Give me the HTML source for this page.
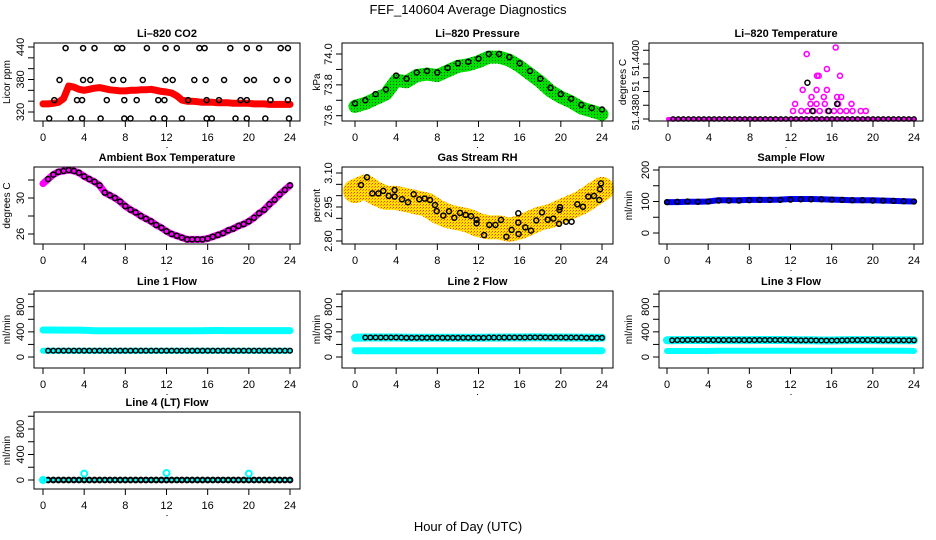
<!DOCTYPE html>
<html><head><meta charset="utf-8"><style>
body{margin:0;background:#fff}
svg{display:block;font-family:"Liberation Sans",sans-serif}
</style></head><body>
<svg id="c" width="936" height="540" viewBox="0 0 936 540" xmlns="http://www.w3.org/2000/svg">
<defs>
<pattern id="pGreen" width="3" height="3" patternUnits="userSpaceOnUse"><rect width="3" height="3" fill="#00e000"/><rect width="1" height="1" fill="#006000"/></pattern>
<pattern id="pRH" width="3" height="3" patternUnits="userSpaceOnUse"><rect width="3" height="3" fill="#ffe000"/><rect width="1" height="1" fill="#f04000"/><rect x="2" y="1" width="1" height="1" fill="#ff8000"/></pattern>
</defs>
<text x="468" y="14" text-anchor="middle" font-size="13">FEF_140604  Average Diagnostics</text>
<text x="468" y="531" text-anchor="middle" font-size="13">Hour of Day (UTC)</text>
</svg>
<script>
const hours49=[0,0.5,1,1.5,2,2.5,3,3.5,4,4.5,5,5.5,6,6.5,7,7.5,8,8.5,9,9.5,10,10.5,11,11.5,12,12.5,13,13.5,14,14.5,15,15.5,16,16.5,17,17.5,18,18.5,19,19.5,20,20.5,21,21.5,22,22.5,23,23.5,24];
const hours25=[0,1,2,3,4,5,6,7,8,9,10,11,12,13,14,15,16,17,18,19,20,21,22,23,24];
const xTicks=[0,4,8,12,16,20,24];
// CO2
const co2Band=[335,335,336,338,345,368,366,362,360,362,364,365,363,361,360,359,359,360,360,361,361,362,360,358,357,355,350,342,340,340,339,338,338,338,337,337,337,336,336,336,336,335,335,335,334,334,334,334,334];
const co2PtsH=[2.2,3.9,5.0,7.2,7.7,10.1,11.9,13.0,15.2,15.7,18.2,19.8,21,23.1,23.8, 1.6,3.9,4.6,6.8,7.8,9.7,11.9,12.6,14.7,15.8,17.6,19.8,20.5,22.7,23.8, 1.1,3.3,3.8,6.2,7.9,9.1,11.2,11.8,14.1,15.9,17.1,19.2,19.8,22.1,23.8, 0.6,2.7,3.8,5.6,7.9,8.5,10.7,11.8,13.5,15.9,16.4,18.7,19.8,21.6,23.9];
const co2PtsV=[438,438,438,438,438,438,438,438,438,438,438,438,438,438,438, 379,379,379,379,379,379,379,379,379,379,379,379,379,379,379, 342,342,342,342,342,342,342,342,342,342,342,342,342,342,342, 308,308,308,308,308,308,308,308,308,308,308,308,308,308,308];
// Pressure
const presBand=[73.66,73.68,73.71,73.74,73.83,73.82,73.86,73.87,73.86,73.89,73.92,73.93,73.95,73.98,73.98,73.96,73.92,73.87,73.82,73.76,73.72,73.69,73.65,73.63,73.61];
const presPts=[73.68,73.70,73.74,73.77,73.86,73.84,73.88,73.89,73.88,73.91,73.94,73.95,73.97,74.00,74.00,73.98,73.94,73.89,73.84,73.78,73.74,73.71,73.67,73.65,73.64];
// Li-820 temperature
const tempBase=[51.4380,51.4380,51.4380,51.4380,51.4380,51.4380,51.4380,51.4380,51.4380,51.4380,51.4380,51.4380,51.4380,51.4380,51.4380,51.4380,51.4380,51.4380,51.4380,51.4380,51.4380,51.4380,51.4380,51.4380,51.4380,51.4380,51.4380,51.4380,51.4380,51.4380,51.4380,51.4380,51.4380,51.4380,51.4380,51.4380,51.4380,51.4380,51.4380,51.4380,51.4380,51.4380,51.4380,51.4380,51.4380,51.4380,51.4380,51.4380,51.4380];
const tempMagH=[13.53,16.36,15.5,14.54,14.7,16.78,13.14,14.5,15.5,12.4,13.9,14.5,15.3,16.6,17.9,12.2,13.0,13.6,14.2,14.8,15.6,16.2,16.8,17.4,18.0,18.8,19.3,14.0,15.2,16.5,16.9];
const tempMagV=[51.44036,51.4406,51.43982,51.43957,51.43957,51.43957,51.43906,51.43906,51.43906,51.43855,51.43855,51.43855,51.43855,51.43855,51.43855,51.43829,51.43829,51.43829,51.43829,51.43829,51.43829,51.43829,51.43829,51.43829,51.43829,51.43829,51.43829,51.4388,51.4388,51.4388,51.4388];
const tempBlkH=[13.6,16.5,14.1,15.7];
const tempBlkV=[51.43932,51.43855,51.43829,51.43829];
// Ambient box temperature
const ambT=[31.6,32.1,32.6,32.9,33.0,33.1,33.0,32.8,32.4,32.1,31.8,31.4,30.6,30.3,30.0,29.6,29.1,28.7,28.4,28.0,27.7,27.4,27.0,26.7,26.3,26.0,25.8,25.6,25.4,25.4,25.4,25.4,25.5,25.7,25.9,26.1,26.4,26.6,26.9,27.1,27.4,27.8,28.3,28.7,29.3,29.8,30.4,30.9,31.4];
// Gas stream RH
const rhBand=[3.02,3.04,3.01,2.99,2.99,2.98,2.97,2.96,2.93,2.91,2.90,2.89,2.87,2.86,2.86,2.85,2.86,2.88,2.90,2.91,2.93,2.95,2.97,3.00,3.03];
const rhPtsH=[0.58,1.17,1.68,2.27,2.75,3.27,3.85,3.85,4.57,5.15,5.70,6.25,6.77,7.29,7.77,7.94,8.58,9.13,9.65,10.20,10.75,11.27,11.82,11.82,12.54,13.05,13.64,14.19,14.71,15.22,15.87,15.87,15.90,16.55,17.10,17.62,18.17,18.72,19.27,19.82,19.86,19.92,20.50,21.05,21.60,22.15,22.67,23.22,23.74,23.81,23.90];
const rhPtsV=[3.047,3.081,3.010,3.010,3.021,2.999,3.025,2.996,2.984,2.971,3.006,2.984,2.987,2.981,2.959,2.932,2.912,2.931,2.903,2.924,2.915,2.910,2.893,2.878,2.826,2.871,2.871,2.893,2.819,2.849,2.922,2.881,2.831,2.860,2.846,2.891,2.926,2.894,2.899,2.876,2.937,2.949,2.885,2.885,2.962,2.951,2.996,2.999,2.981,3.028,3.054];
// Sample flow
const sampBand=[98,98,99,99,100,104,104,104,105,105,105,106,108,108,108,107,106,105,104,104,104,103,102,101,100];
const sampPts=[98,99,100,99,100,103,103,103,104,105,105,105,106,107,107,107,106,105,104,104,103,103,102,101,100];
// Line flows
const l1High=[430,430,428,428,425,418,418,418,418,418,418,418,418,418,418,418,420,422,420,420,420,420,420,420,420];
const l1Low=[100,100,100,100,100,100,100,100,100,100,100,100,100,100,100,100,100,100,100,100,100,100,100,100,100];
const l1Pts=[100,100,100,100,100,100,100,100,100,100,100,100,100,100,100,100,100,100,100,100,100,100,100,100,100,100,100,100,100,100,100,100,100,100,100,100,100,100,100,100,100,100,100,100,100,100,100,100,100];
const l2High=[305,310,310,310,310,305,305,305,305,305,305,305,305,308,308,310,310,312,312,310,310,308,308,305,305];
const l2Pts=[305,308,310,310,310,310,310,310,310,308,305,305,305,305,305,305,305,305,305,305,305,305,305,305,305,305,308,308,308,308,310,310,310,310,312,312,312,312,310,310,310,308,308,308,308,305,305,305,305];
const l2Low=[100,100,100,100,100,100,100,100,100,100,100,100,100,100,100,100,100,100,100,100,100,100,100,100,100];
const l3High=[265,268,270,270,270,268,268,268,268,270,270,270,268,265,265,262,262,265,268,268,268,265,265,265,265];
const l3Pts=[265,266,268,269,270,270,270,270,270,269,268,268,268,268,268,268,268,269,270,270,270,270,270,269,268,266,265,265,265,264,262,262,262,263,265,266,268,268,268,268,268,267,265,265,265,265,265,265,265];
const l3Low=[95,95,95,95,95,98,100,100,100,100,100,100,100,100,100,100,100,100,100,100,100,98,98,98,95];
const l4Zero=[0,0,0,0,0,0,0,0,0,0,0,0,0,0,0,0,0,0,0,0,0,0,0,0,0,0,0,0,0,0,0,0,0,0,0,0,0,0,0,0,0,0,0,0,0,0,0,0,0];
const l4SpikeH=[0,4,12,20];
const l4SpikeV=[0,100,110,100];

const svg=document.getElementById('c');
const NS='http://www.w3.org/2000/svg';
function mk(tag,attrs,parent){const e=document.createElementNS(NS,tag);for(const k in attrs)e.setAttribute(k,attrs[k]);(parent||svg).appendChild(e);return e;}

function panel(cfg){
  const g=mk('g',{});
  
  
  const [bx0,by0,bx1,by1]=cfg.box;
  const X=h=>cfg.xp[0]+(h/24)*(cfg.xp[1]-cfg.xp[0]);
  const [v1,p1,v2,p2]=cfg.ym;
  const Y=v=>p1+(v-v1)*(p2-p1)/(v2-v1);
  const t=mk('text',{x:(bx0+bx1)/2,y:by0-6,'text-anchor':'middle','font-size':'11','font-weight':'bold'},g);
  t.textContent=cfg.title;
  
  
  const yl=mk('text',{x:0,y:0,'text-anchor':'middle','font-size':'10',transform:`translate(${cfg.ylabX},${(by0+by1)/2}) rotate(-90)`},g);
  yl.textContent=cfg.ylab;
  
  
  const sg=mk('g',{},g);
  cfg.draw(sg,X,Y);
  const box=mk('rect',{x:bx0,y:by0,width:bx1-bx0,height:by1-by0,fill:'none',stroke:'#000','stroke-width':1},g);
  
  
  xTicks.forEach(h=>{
    mk('line',{x1:X(h),x2:X(h),y1:by1,y2:by1+6,stroke:'#000'},g);
    const tx=mk('text',{x:X(h),y:by1+20,'text-anchor':'middle','font-size':'11'},g);
    tx.textContent=String(h);
    
    
  });
  mk('rect',{x:(bx0+bx1)/2-0.5,y:by1+26,width:1,height:1,fill:'#000'},g);
  cfg.yticks.forEach(v=>{mk('line',{x1:bx0,x2:bx0-6,y1:Y(v),y2:Y(v),stroke:'#000'},g);});
  cfg.ylabels.forEach(([v,s])=>{
    const ty=mk('text',{x:0,y:0,'text-anchor':'middle','font-size':cfg.ylabFs||'11',transform:`translate(${bx0-10},${Y(v)}) rotate(-90)`},g);
    ty.textContent=s;
    
    
  });
}
function band(g,X,Y,hs,vs,color,w){
  const d=hs.map((h,i)=>(i?'L':'M')+X(h).toFixed(1)+' '+Y(vs[i]).toFixed(1)).join(' ');
  const p=mk('path',{d:d,fill:'none',stroke:color,'stroke-width':w,'stroke-linecap':'round','stroke-linejoin':'round'},g);
  
  
}
function pts(g,X,Y,hs,vs,color,r,sw){
  hs.forEach((h,i)=>{
    const c=mk('circle',{cx:X(h).toFixed(1),cy:Y(vs[i]).toFixed(1),r:r||2.5,fill:'none',stroke:color||'#000','stroke-width':sw||1.5},g);
    
    
  });
}
const rows=[[43,121],[167,244],[291,368],[412,489]];
const flowTicks=[0,200,400,600,800,1000];
const flowLabels=[[0,'0'],[400,'400'],[800,'800']];

panel({name:'co2-panel',title:'Li\u2013820 CO2',ylab:'Licor ppm',ylabX:10,box:[34,rows[0][0],300,rows[0][1]],xp:[43,290],ym:[320,112,440,47],
 yticks:[320,340,360,380,400,420,440],ylabels:[[320,'320'],[380,'380'],[440,'440']],
 draw:(g,X,Y)=>{band(g,X,Y,hours49,co2Band,'#ff0000',7);pts(g,X,Y,co2PtsH,co2PtsV);}});
panel({name:'pressure-panel',title:'Li\u2013820 Pressure',ylab:'kPa',ylabX:320,box:[342,rows[0][0],613,rows[0][1]],xp:[355,602],ym:[73.6,115.7,74.0,54],
 yticks:[73.6,73.7,73.8,73.9,74.0],ylabels:[[73.6,'73.6'],[73.8,'73.8'],[74.0,'74.0']],
 draw:(g,X,Y)=>{band(g,X,Y,hours25,presBand,'url(#pGreen)',13);pts(g,X,Y,hours25,presPts);}});
panel({name:'li820-temperature-panel',title:'Li\u2013820 Temperature',ylab:'degrees C',ylabX:626,box:[649,rows[0][0],923,rows[0][1]],xp:[668,914],ym:[51.4380,119,51.4400,64],ylabFs:'10',
 yticks:[51.4380,51.43850,51.4390,51.43950,51.4400,51.44050],ylabels:[[51.43825,'51.4380'],[51.4392,'51'],[51.44022,'51.4400']],
 draw:(g,X,Y)=>{pts(g,X,Y,tempMagH,tempMagV,'#ff00ff',2.5,1.6);band(g,X,Y,hours49,tempBase,'#ff00ff',4);pts(g,X,Y,hours49.slice(1),tempBase.slice(1),'#000',2.2,1.4);pts(g,X,Y,tempBlkH,tempBlkV);}});
panel({name:'ambient-temperature-panel',title:'Ambient Box Temperature',ylab:'degrees C',ylabX:10,box:[34,rows[1][0],300,rows[1][1]],xp:[43,290],ym:[26,234,30,198],
 yticks:[26,28,30,32],ylabels:[[26,'26'],[30,'30']],
 draw:(g,X,Y)=>{band(g,X,Y,hours49,ambT,'#ff00ff',7);pts(g,X,Y,hours49.slice(1),ambT.slice(1));}});
panel({name:'rh-panel',title:'Gas Stream RH',ylab:'percent',ylabX:320,box:[342,rows[1][0],613,rows[1][1]],xp:[355,602],ym:[2.80,241,3.10,173],
 yticks:[2.80,2.85,2.90,2.95,3.00,3.05,3.10],ylabels:[[2.80,'2.80'],[2.95,'2.95'],[3.10,'3.10']],
 draw:(g,X,Y)=>{band(g,X,Y,hours25,rhBand,'url(#pRH)',24);pts(g,X,Y,rhPtsH,rhPtsV);}});
panel({name:'sample-flow-panel',title:'Sample Flow',ylab:'ml/min',ylabX:632,box:[659,rows[1][0],923,rows[1][1]],xp:[667,914],ym:[0,233,200,170],
 yticks:[0,50,100,150,200],ylabels:[[0,'0'],[100,'100'],[200,'200']],
 draw:(g,X,Y)=>{band(g,X,Y,hours25,sampBand,'#0000ff',6);pts(g,X,Y,hours25,sampPts,'#000',2.4,1.5);}});
panel({name:'line1-flow-panel',title:'Line 1 Flow',ylab:'ml/min',ylabX:10,box:[34,rows[2][0],300,rows[2][1]],xp:[43,290],ym:[0,357,800,306.7],
 yticks:flowTicks,ylabels:flowLabels,
 draw:(g,X,Y)=>{band(g,X,Y,hours25,l1High,'#00ffff',7);band(g,X,Y,hours25,l1Low,'#00ffff',6);pts(g,X,Y,hours49.slice(1),l1Pts.slice(1),'#000',2.3,1.5);}});
panel({name:'line2-flow-panel',title:'Line 2 Flow',ylab:'ml/min',ylabX:320,box:[342,rows[2][0],613,rows[2][1]],xp:[355,602],ym:[0,357,800,306.7],
 yticks:flowTicks,ylabels:flowLabels,
 draw:(g,X,Y)=>{band(g,X,Y,hours25,l2High,'#00ffff',8);band(g,X,Y,hours25,l2Low,'#00ffff',7);pts(g,X,Y,hours49.slice(2),l2Pts.slice(2),'#000',2.3,1.5);}});
panel({name:'line3-flow-panel',title:'Line 3 Flow',ylab:'ml/min',ylabX:632,box:[659,rows[2][0],923,rows[2][1]],xp:[667,914],ym:[0,357,800,306.7],
 yticks:flowTicks,ylabels:flowLabels,
 draw:(g,X,Y)=>{band(g,X,Y,hours25,l3High,'#00ffff',8);band(g,X,Y,hours25,l3Low,'#00ffff',6);pts(g,X,Y,hours49.slice(1),l3Pts.slice(1),'#000',2.3,1.5);}});
panel({name:'line4-flow-panel',title:'Line 4 (LT) Flow',ylab:'ml/min',ylabX:10,box:[34,rows[3][0],300,rows[3][1]],xp:[43,290],ym:[0,480,800,429],
 yticks:flowTicks,ylabels:flowLabels,
 draw:(g,X,Y)=>{band(g,X,Y,hours49,l4Zero,'#00ffff',5);pts(g,X,Y,hours49.slice(1),l4Zero.slice(1),'#000',2.4,2);pts(g,X,Y,l4SpikeH,l4SpikeV,'#00ffff',3,2);}});
</script>
</body></html>
